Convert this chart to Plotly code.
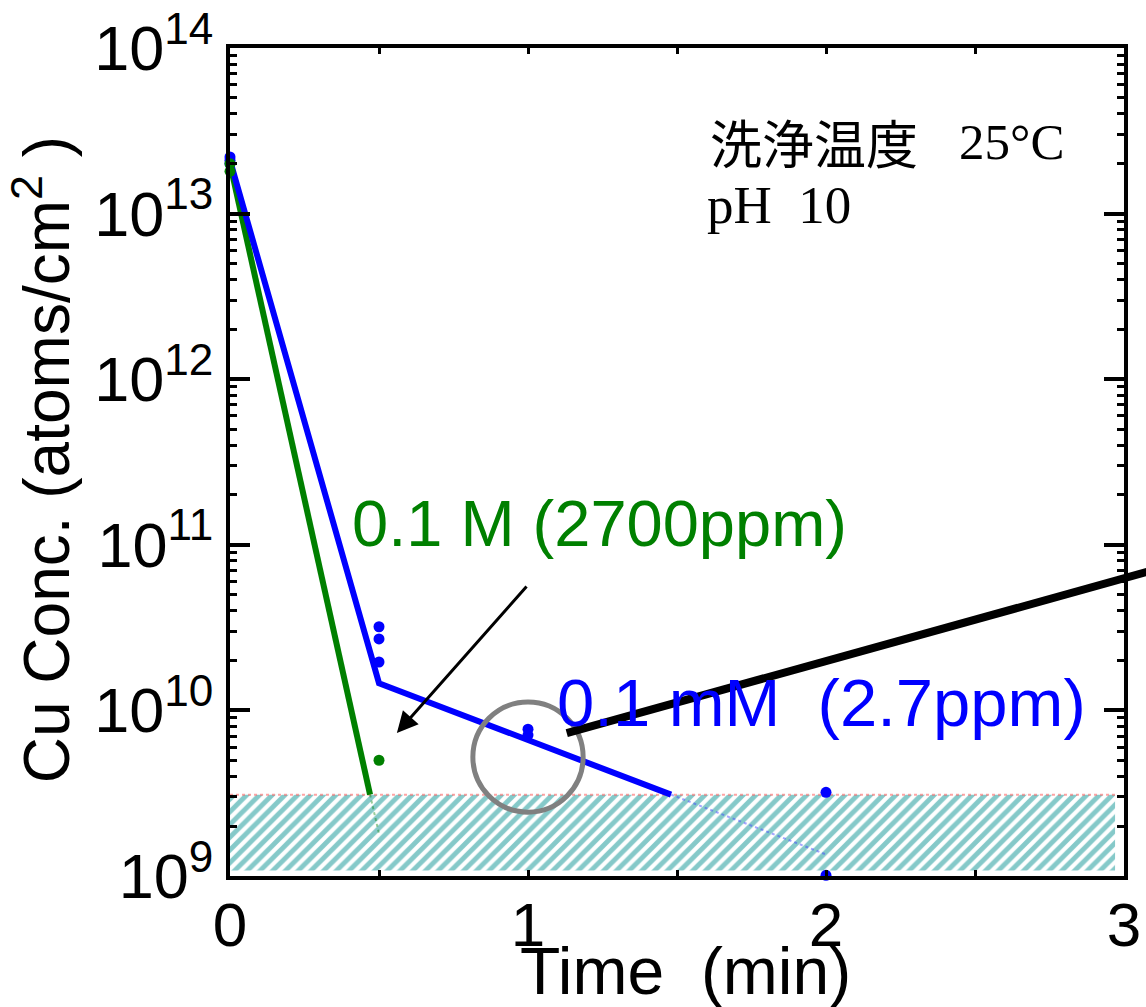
import numpy as np
import plotly.graph_objects as go

# ---------------- data ----------------
blue_t = [0, 0, 0, 0.5, 0.5, 0.5, 1, 1, 2, 2]
blue_c = [2.2e13, 2.1e13, 2.0e13, 3.2e10, 2.7e10, 1.96e10, 7.7e9, 7.1e9, 3.2e9, 1.01e9]
green_t = [0, 0, 0.5]
green_c = [2.0e13, 1.8e13, 5.0e9]

blue_fit_t = [0, 0.5, 1.48]
blue_fit_c = [2.1e13, 1.46e10, 3.1e9]
blue_ext_t = [1.48, 2.0]
blue_ext_c = [3.1e9, 1.35e9]
green_fit_t = [0, 0.47]
green_fit_c = [2.0e13, 3.1e9]
green_ext_t = [0.47, 0.5]
green_ext_c = [3.1e9, 1.8e9]

dl_t = [0, 2.97]
dl_low = 1.08e9
dl_high = 3.1e9

x_ticks = [0, 1, 2, 3]
y_exps = [9, 10, 11, 12, 13, 14]

circle_t = [0.815, 1.185]
circle_c = [2.43e9, 1.124e10]
black_t = [1.13, 3.2]
black_c = [7.3e9, 7.9e10]

BLUE = "#0000ff"
GREEN = "#008000"
TEAL = "#0c9494"
SANS = "Liberation Sans, Arial, sans-serif"
SERIF = "Liberation Serif, Times New Roman, serif"
CJK = "Noto Sans CJK JP, sans-serif"

fig = go.Figure()

# detection-limit hatched band
fig.add_trace(go.Scatter(
    x=[dl_t[0], dl_t[1], dl_t[1], dl_t[0], dl_t[0]],
    y=[dl_low, dl_low, dl_high, dl_high, dl_low],
    mode="lines", line=dict(width=0), fill="toself",
    fillcolor="rgba(255,255,255,0)",
    fillpattern=dict(shape="/", fgcolor=TEAL, bgcolor="white", size=9, solidity=0.55),
    hoverinfo="skip", showlegend=False))
fig.add_trace(go.Scatter(
    x=dl_t, y=[dl_high, dl_high], mode="lines",
    line=dict(color="rgba(255,90,90,0.55)", width=2, dash="dot"),
    showlegend=False))

# fit lines
fig.add_trace(go.Scatter(x=green_fit_t, y=green_fit_c, mode="lines",
                         line=dict(color=GREEN, width=6), showlegend=False))
fig.add_trace(go.Scatter(x=green_ext_t, y=green_ext_c, mode="lines",
                         line=dict(color="rgba(0,128,0,0.4)", width=2, dash="dot"), showlegend=False))
fig.add_trace(go.Scatter(x=blue_fit_t, y=blue_fit_c, mode="lines",
                         line=dict(color=BLUE, width=6), showlegend=False))
fig.add_trace(go.Scatter(x=blue_ext_t, y=blue_ext_c, mode="lines",
                         line=dict(color="rgba(60,60,255,0.45)", width=2, dash="dot"), showlegend=False))

# data points
fig.add_trace(go.Scatter(x=blue_t, y=blue_c, mode="markers", cliponaxis=False,
                         marker=dict(color=BLUE, size=11), showlegend=False))
fig.add_trace(go.Scatter(x=green_t, y=green_c, mode="markers", cliponaxis=False,
                         marker=dict(color=GREEN, size=11), showlegend=False))

# helpers for paper coordinates
XR = (0, 3)
YR = (9, 14)
def xp(t):
    return (t - XR[0]) / (XR[1] - XR[0])
def yp(c):
    return (np.log10(c) - YR[0]) / (YR[1] - YR[0])

# circle highlight
fig.add_shape(type="circle", xref="x", yref="y",
              x0=circle_t[0], x1=circle_t[1], y0=circle_c[0], y1=circle_c[1],
              line=dict(color="#808080", width=5))
# black leader line (extends past frame)
fig.add_shape(type="line", xref="paper", yref="paper",
              x0=xp(black_t[0]), y0=yp(black_c[0]), x1=xp(black_t[1]), y1=yp(black_c[1]),
              line=dict(color="black", width=8))

# arrow
fig.add_annotation(x=0.56, y=np.log10(7.3e9), xref="x", yref="y", text="",
                   showarrow=True, ax=131, ay=-148, arrowhead=2, arrowsize=1.4,
                   arrowwidth=3, arrowcolor="black")

# labels
fig.add_annotation(x=xp(1.24), y=0.4263, xref="paper", yref="paper",
                   text="0.1 M (2700ppm)", showarrow=False,
                   font=dict(family=SANS, size=65, color=GREEN), xanchor="center", yanchor="middle")
fig.add_annotation(x=xp(1.986), y=0.2101, xref="paper", yref="paper",
                   text="0.1 mM  (2.7ppm)", showarrow=False,
                   font=dict(family=SANS, size=67, color=BLUE), xanchor="center", yanchor="middle")
fig.add_annotation(x=0.5347, y=0.8865, xref="paper", yref="paper",
                   text="洗浄温度", showarrow=False,
                   font=dict(family=CJK, size=52, color="black"), xanchor="left", yanchor="middle")
fig.add_annotation(x=0.8132, y=0.8865, xref="paper", yref="paper",
                   text="25°C", showarrow=False,
                   font=dict(family=SERIF, size=51, color="black"), xanchor="left", yanchor="middle")
fig.add_annotation(x=0.5315, y=0.810, xref="paper", yref="paper",
                   text="pH  10", showarrow=False,
                   font=dict(family=SERIF, size=53, color="black"), xanchor="left", yanchor="middle")

# axis titles
fig.add_annotation(x=-0.21, y=0.5024, xref="paper", yref="paper",
                   text="Cu Conc. (atoms/cm<sup>2</sup> )", showarrow=False, textangle=-90,
                   font=dict(family=SANS, size=64, color="black"), xanchor="center", yanchor="middle")
fig.add_annotation(x=0.509, y=-0.1147, xref="paper", yref="paper",
                   text="Time  (min)", showarrow=False,
                   font=dict(family=SANS, size=66, color="black"), xanchor="center", yanchor="middle")

fig.update_layout(
    width=1146, height=1007,
    margin=dict(l=230, r=22, t=48, b=131),
    paper_bgcolor="white", plot_bgcolor="white",
    showlegend=False,
    xaxis=dict(range=list(XR), tickvals=x_ticks, ticktext=[str(v) for v in x_ticks],
               ticks="inside", ticklen=6, tickwidth=3, tickcolor="black",
               showline=True, linewidth=4, linecolor="black", mirror="ticks",
               showgrid=False, zeroline=False, automargin=False, ticklabelstandoff=-8,
               minor=dict(dtick=0.5, ticks="inside", ticklen=6, tickwidth=3, tickcolor="black", showgrid=False),
               tickfont=dict(family=SANS, size=62, color="black")),
    yaxis=dict(type="log", range=list(YR),
               tickvals=[10.0 ** e for e in y_exps],
               ticktext=["10<sup>%d</sup>" % e for e in y_exps],
               ticks="inside", ticklen=20, tickwidth=4, tickcolor="black",
               showline=True, linewidth=4, linecolor="black", mirror="ticks",
               showgrid=False, zeroline=False, automargin=False,
               minor=dict(dtick="D1", ticks="inside", ticklen=7, tickwidth=3, tickcolor="black", showgrid=False),
               tickfont=dict(family=SANS, size=63, color="black")),
)

fig.write_html("out.html")
